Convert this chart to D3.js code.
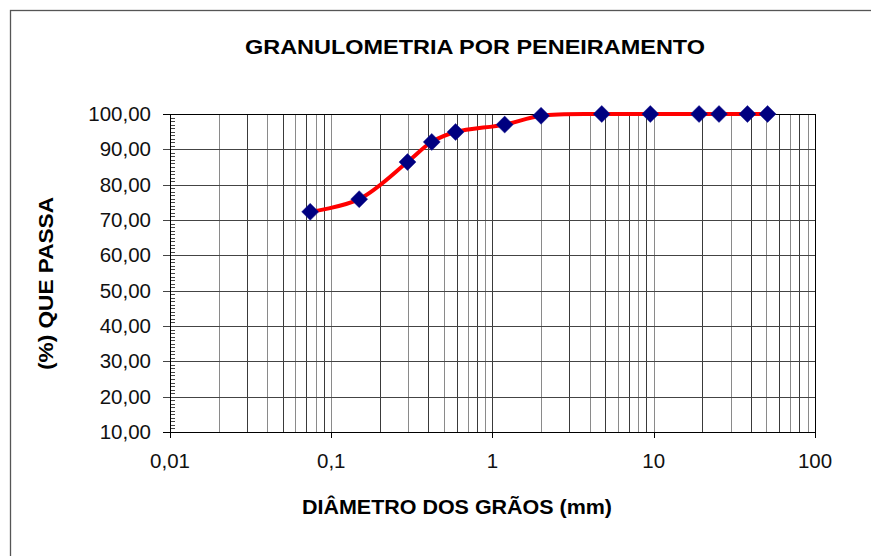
<!DOCTYPE html>
<html>
<head>
<meta charset="utf-8">
<script src="https://cdn.jsdelivr.net/npm/d3@7"></script>
<style>
  body { margin: 0; background: #fff; }
  svg { font-family: "Liberation Sans", Arial, sans-serif; }
</style>
</head>
<body>
<svg id="chart" width="871" height="556"></svg>
<script>
// sieve openings (mm) and % passing
const sieveSizes = [0.074, 0.149, 0.297, 0.42, 0.59, 1.19, 2.0, 4.76, 9.52, 19.1, 25.4, 38.1, 50.8];
const percentPassing = [72.3, 75.9, 86.4, 92.1, 94.9, 97.0, 99.5, 100, 100, 100, 100, 100, 100];
const xTickValues = [0.01, 0.1, 1, 10, 100];
const xTickLabels = ['0,01', '0,1', '1', '10', '100'];
const yTickValues = [10, 20, 30, 40, 50, 60, 70, 80, 90, 100];

const svg = d3.select('#chart');

// outer frame (runs off the right and bottom of the picture)
svg.append('rect')
    .attr('x', 10.5).attr('y', 10.5)
    .attr('width', 900).attr('height', 600)
    .attr('fill', 'none')
    .attr('stroke', '#555')
    .attr('stroke-width', 1.3);

const plot = { left: 170, right: 815, top: 114, bottom: 432 };

const x = d3.scaleLog().domain([0.01, 100]).range([plot.left, plot.right]);
const y = d3.scaleLinear().domain([10, 100]).range([plot.bottom, plot.top]);

// vertical grid: every 1..9 of each decade
let xGrid = [];
for (let dec = 0.01; dec < 100; dec *= 10) {
    for (let k = 1; k < 10; k++) xGrid.push(+(dec * k).toPrecision(3));
}
xGrid.push(100);

svg.append('g').selectAll('line').data(xGrid).enter()
    .append('line')
    .attr('x1', d => Math.round(x(d)) + 0.5)
    .attr('x2', d => Math.round(x(d)) + 0.5)
    .attr('y1', plot.top)
    .attr('y2', plot.bottom)
    .attr('stroke', (d, i) => (i % 2 === 0 ? '#3a3a3a' : '#8a8a8a'))
    .attr('stroke-width', 1);

// horizontal grid
svg.append('g').selectAll('line').data(yTickValues).enter()
    .append('line')
    .attr('x1', plot.left - 7)
    .attr('x2', plot.right)
    .attr('y1', d => Math.round(y(d)) + 0.5)
    .attr('y2', d => Math.round(y(d)) + 0.5)
    .attr('stroke', d => (d === 10 || d === 100) ? '#000' : '#444')
    .attr('stroke-width', 1);

// y minor ticks (inside)
svg.append('g').selectAll('line').data(d3.range(11, 100).filter(v => v % 10 !== 0)).enter()
    .append('line')
    .attr('x1', plot.left)
    .attr('x2', plot.left + 5)
    .attr('y1', d => Math.round(y(d)) + 0.5)
    .attr('y2', d => Math.round(y(d)) + 0.5)
    .attr('stroke', '#444');

// plot border
svg.append('rect')
    .attr('x', plot.left + 0.5).attr('y', plot.top + 0.5)
    .attr('width', plot.right - plot.left).attr('height', plot.bottom - plot.top)
    .attr('fill', 'none').attr('stroke', '#000');

// x decade ticks (outside)
svg.append('g').selectAll('line').data(xTickValues).enter()
    .append('line')
    .attr('x1', d => Math.round(x(d)) + 0.5)
    .attr('x2', d => Math.round(x(d)) + 0.5)
    .attr('y1', plot.bottom)
    .attr('y2', plot.bottom + 6)
    .attr('stroke', '#000');

// tick labels
svg.append('g').selectAll('text').data(yTickValues).enter()
    .append('text')
    .attr('x', 151)
    .attr('y', d => y(d) + 7)
    .attr('text-anchor', 'end')
    .attr('font-size', 20.5)
    .attr('fill', '#111')
    .text(d => d3.format('.2f')(d).replace('.', ','));

svg.append('g').selectAll('text').data(xTickValues).enter()
    .append('text')
    .attr('x', d => x(d))
    .attr('y', 468)
    .attr('text-anchor', 'middle')
    .attr('font-size', 20.5)
    .attr('fill', '#111')
    .text((d, i) => xTickLabels[i]);

// titles
svg.append('text')
    .attr('x', 245).attr('y', 54)
    .attr('font-size', 21).attr('font-weight', 'bold')
    .attr('textLength', 460).attr('lengthAdjust', 'spacingAndGlyphs')
    .text('GRANULOMETRIA POR PENEIRAMENTO');

svg.append('text')
    .attr('x', 302).attr('y', 514)
    .attr('font-size', 20).attr('font-weight', 'bold')
    .attr('textLength', 310).attr('lengthAdjust', 'spacingAndGlyphs')
    .text('DIÂMETRO DOS GRÃOS (mm)');

svg.append('text')
    .attr('transform', 'translate(53,370) rotate(-90)')
    .attr('font-size', 20).attr('font-weight', 'bold')
    .attr('textLength', 173).attr('lengthAdjust', 'spacingAndGlyphs')
    .text('(%) QUE PASSA');

// smoothed curve
const pts = sieveSizes.map((s, i) => [s, percentPassing[i]]);
const line = d3.line()
    .x(d => x(d[0]))
    .y(d => y(d[1]))
    .curve(d3.curveCatmullRom.alpha(0.5));

svg.append('path')
    .datum(pts)
    .attr('d', line)
    .attr('fill', 'none')
    .attr('stroke', '#ff0000')
    .attr('stroke-width', 4);

// diamond markers
svg.append('g').selectAll('path').data(pts).enter()
    .append('path')
    .attr('transform', d => `translate(${x(d[0])},${y(d[1])})`)
    .attr('d', 'M0,-8.5L8.5,0L0,8.5L-8.5,0Z')
    .attr('fill', '#000080')
    .attr('stroke', '#1a1a90')
    .attr('stroke-width', 0.5);
</script>
</body>
</html>
